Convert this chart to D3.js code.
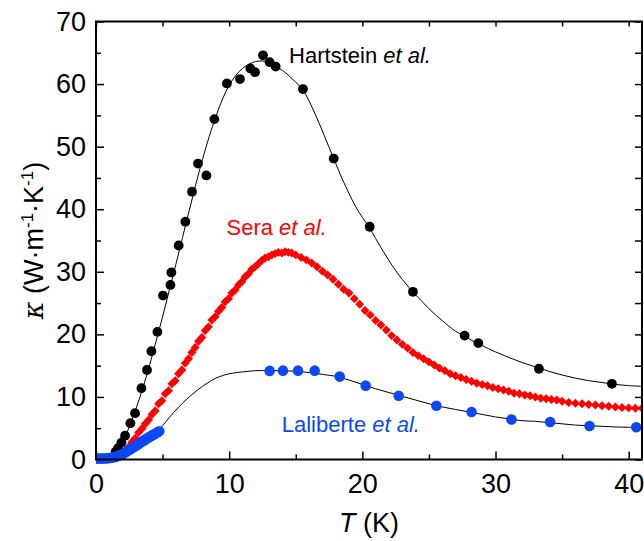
<!DOCTYPE html>
<html><head><meta charset="utf-8">
<script src="https://cdn.jsdelivr.net/npm/d3@7"></script>
<style>
html,body{margin:0;padding:0;background:#fff;}
svg{display:block;font-family:"Liberation Sans",Arial,Helvetica,sans-serif;}
</style></head>
<body>
<svg id="chart" width="644" height="541"></svg>
<script>
// ---------------- data ----------------
const xTicksMajor = [0, 10, 20, 30, 40];
const xTicksMinor = [5, 15, 25, 35];
const yTicksMajor = [0, 10, 20, 30, 40, 50, 60, 70];
const yTicksMinor = [5, 15, 25, 35, 45, 55, 65];

// Hartstein et al. (black circles)
const hartT = [1.48,1.65,1.91,2.18,2.58,2.93,3.41,3.83,4.16,4.61,5.03,5.59,5.66,6.21,6.71,7.21,7.66,8.29,8.89,9.83,10.81,11.59,11.94,12.54,13.04,13.49,15.54,17.85,20.55,23.8,27.68,28.71,33.26,38.74];
const hartK = [1.25,1.8,2.7,3.8,5.8,7.4,11.4,14.3,17.3,20.4,26.2,27.9,29.9,34.2,38.0,42.8,47.3,45.4,54.4,60.1,60.8,62.5,61.9,64.6,63.5,62.8,59.2,48.1,37.2,26.8,19.8,18.6,14.5,12.1];
// fitted curve through Hartstein data
const hartFitT = [0,0.5,1.0,1.5,2.0,2.5,3.0,3.5,4.0,4.5,5.0,5.5,6.0,6.5,7.0,7.5,8.0,8.5,9.0,9.5,10.0,10.5,11.0,11.5,12.0,12.5,13.0,13.5,14.0,14.5,15.0,15.5,16.0,16.5,17.0,17.5,18.0,18.5,19.0,19.5,20.0,20.5,21.0,21.5,22.0,22.5,23.0,23.5,24.0,24.5,25.0,25.5,26.0,26.5,27.0,27.5,28.0,28.5,29.0,30.0,31.0,32.0,33.0,34.0,35.0,36.0,37.0,38.0,39.0,40.0,41.0];
const hartFitK = [0,-0.1,0.1,1.0,2.8,5.2,8.1,11.3,14.9,18.8,22.8,27.0,31.2,35.5,39.8,44.0,48.0,51.6,54.8,57.6,59.8,61.4,62.5,63.2,63.6,63.7,63.5,62.8,62.2,61.3,60.3,59.2,57.3,55.0,52.5,49.9,47.3,44.8,42.5,40.4,38.7,37.2,35.3,33.5,31.8,30.2,28.8,27.5,26.3,25.2,24.1,23.1,22.2,21.3,20.5,19.9,19.3,18.7,18.2,17.2,16.3,15.5,14.8,14.1,13.5,13.0,12.6,12.3,12.0,11.8,11.7];

// Sera et al. (red diamonds)
const seraT = [1.20,1.45,1.70,1.95,2.20,2.45,2.70,2.95,3.20,3.45,3.70,3.95,4.20,4.45,4.70,4.95,5.20,5.45,5.70,5.95,6.20,6.45,6.70,6.95,7.20,7.45,7.70,7.95,8.20,8.45,8.70,8.95,9.20,9.45,9.70,9.95,10.20,10.45,10.70,10.95,11.20,11.45,11.70,11.95,12.20,12.45,12.70,12.95,13.20,13.45,13.70,13.95,14.20,14.45,14.70,
  15.0,15.4,15.8,16.2,16.6,17.0,17.4,17.8,18.2,18.6,19.0,19.4,19.8,20.2,20.6,21.0,21.4,21.8,22.2,22.6,23.0,23.4,23.8,24.2,24.6,25.0,25.4,25.8,26.2,26.6,27.0,27.4,27.8,28.2,28.6,29.0,29.4,29.8,30.2,30.6,31.0,31.4,31.8,32.2,32.6,33.0,33.4,33.8,34.2,34.6,35.0,35.5,36.0,36.5,37.0,37.5,38.0,38.5,39.0,39.5,40.0,40.5,41.0];
const seraK = [0.2,0.4,0.6,0.9,1.4,2.0,2.8,3.4,4.3,4.9,5.7,6.3,7.2,7.8,8.9,9.4,10.5,11.0,12.1,12.6,13.7,14.3,15.4,16.1,17.1,17.9,18.9,19.5,20.6,21.2,22.3,22.8,23.7,24.3,25.2,25.7,26.6,27.1,27.9,28.4,29.2,29.7,30.4,30.8,31.3,31.8,32.2,32.4,32.7,32.9,33.1,33.0,33.2,33.1,33.0,
  32.7,32.3,31.9,31.4,30.8,30.1,29.5,28.8,28.0,27.2,26.6,25.7,24.8,23.8,23.1,22.2,21.5,20.7,19.8,19.1,18.4,17.8,17.1,16.6,16.1,15.6,15.1,14.6,14.2,13.7,13.4,13.1,12.8,12.5,12.2,12.0,11.8,11.5,11.3,11.1,10.9,10.6,10.5,10.3,10.2,10.0,9.8,9.7,9.6,9.5,9.3,9.1,9.0,8.9,8.8,8.7,8.6,8.5,8.4,8.3,8.25,8.2,8.2];

// Laliberte et al. (blue circles)
const laliT = [0.00,0.15,0.30,0.45,0.60,0.75,0.90,1.05,1.20,1.35,1.50,1.65,1.80,1.95,2.10,2.25,2.40,2.55,2.70,2.85,3.00,3.15,3.30,3.45,3.60,3.75,3.90,4.05,4.20,4.35,4.50,4.65,4.75,
  13.04,14.04,15.17,16.42,18.3,20.25,22.73,25.56,28.2,31.2,34.1,37.06,40.57];
const laliK = [0.15,0.15,0.15,0.15,0.15,0.2,0.2,0.25,0.3,0.35,0.45,0.55,0.7,0.85,1.0,1.2,1.4,1.6,1.8,2.0,2.2,2.4,2.65,2.85,3.05,3.25,3.45,3.65,3.85,4.0,4.2,4.4,4.5,
  14.16,14.2,14.2,14.2,13.25,11.8,10.2,8.6,7.6,6.4,6.0,5.36,5.15];
const laliFitT = [0,0.5,1.0,1.5,2.0,2.5,3.0,3.5,4.0,4.5,5.0,5.5,6.0,6.5,7.0,7.5,8.0,8.5,9.0,9.5,10.0,11.0,12.0,13.0,14.0,15.0,16.0,17.0,18.0,19.0,20.0,21.0,22.0,23.0,24.0,25.0,26.0,27.0,28.0,29.0,30.0,31.0,32.0,33.0,34.0,35.0,36.0,37.0,38.0,39.0,40.0,41.0];
const laliFitK = [0,-0.05,0.1,0.4,0.9,1.5,2.2,2.9,3.6,4.3,5.4,6.7,7.9,9.0,10.0,10.9,11.7,12.4,13.0,13.4,13.7,14.0,14.2,14.2,14.2,14.1,13.9,13.6,13.3,12.7,12.0,11.3,10.7,10.1,9.5,8.9,8.4,8.0,7.6,7.2,6.8,6.5,6.2,6.1,5.9,5.7,5.5,5.4,5.3,5.2,5.15,5.1];

const labels = [
  {text: "Hartstein ", it: "et al.", color: "#000000", t: 14.5, k: 63.3},
  {text: "Sera ", it: "et al.", color: "#ff0000", t: 9.8, k: 35.8},
  {text: "Laliberte ", it: "et al.", color: "#0a48f5", t: 13.95, k: 4.4}
];

// ---------------- chart ----------------
const svg = d3.select("#chart");
const L = 96, R = 642, T = 21.5, B = 459.5;
const x = d3.scaleLinear().domain([0, 41]).range([L, R]);
const y = d3.scaleLinear().domain([0, 70]).range([B, T]);
const blue = "#0a48f5", red = "#ff0000";

function styleAxis(g, fs) {
  g.select(".domain").remove();
  g.selectAll(".tick line").attr("stroke", "#000").attr("stroke-width", 1.5);
  g.selectAll(".tick text").attr("fill", "#000").style("font-size", fs + "px")
    .style("font-family", '"Liberation Sans",Arial,sans-serif');
}

// bottom axis
svg.append("g").attr("transform", `translate(0,${B})`)
  .call(d3.axisBottom(x).tickValues(xTicksMajor).tickSizeInner(-8).tickSizeOuter(0).tickPadding(14))
  .call(g => styleAxis(g, 27));
svg.append("g").attr("transform", `translate(0,${B})`)
  .call(d3.axisBottom(x).tickValues(xTicksMinor).tickSizeInner(-5).tickSizeOuter(0).tickFormat(""))
  .call(g => styleAxis(g, 27));
// top axis
svg.append("g").attr("transform", `translate(0,${T})`)
  .call(d3.axisTop(x).tickValues(xTicksMajor.concat(xTicksMinor)).tickSizeInner(-5).tickSizeOuter(0).tickFormat(""))
  .call(g => styleAxis(g, 27));
// left axis
svg.append("g").attr("transform", `translate(${L},0)`)
  .call(d3.axisLeft(y).tickValues(yTicksMajor).tickSizeInner(-8).tickSizeOuter(0).tickPadding(10))
  .call(g => styleAxis(g, 27));
svg.append("g").attr("transform", `translate(${L},0)`)
  .call(d3.axisLeft(y).tickValues(yTicksMinor).tickSizeInner(-5).tickSizeOuter(0).tickFormat(""))
  .call(g => styleAxis(g, 27));
// right axis
svg.append("g").attr("transform", `translate(${R},0)`)
  .call(d3.axisRight(y).tickValues(yTicksMajor.concat(yTicksMinor)).tickSizeInner(-7).tickSizeOuter(0).tickFormat(""))
  .call(g => styleAxis(g, 27));

// clip
svg.append("clipPath").attr("id", "clip").append("rect")
  .attr("x", L).attr("y", T).attr("width", R - L).attr("height", B - T + 6);
const plot = svg.append("g").attr("clip-path", "url(#clip)");

plot.append("path").datum(hartFitT.map((t, i) => [t, hartFitK[i]]))
  .attr("d", d3.line().x(d => x(d[0])).y(d => y(d[1])).curve(d3.curveCatmullRom))
  .attr("fill", "none").attr("stroke", "#000").attr("stroke-width", 1);
plot.append("path").datum(laliFitT.map((t, i) => [t, laliFitK[i]]))
  .attr("d", d3.line().x(d => x(d[0])).y(d => y(d[1])).curve(d3.curveCatmullRom))
  .attr("fill", "none").attr("stroke", "#000").attr("stroke-width", 1);

// red diamonds
const diamond = d3.symbol().type(d3.symbolSquare).size(40)();
plot.append("g").selectAll("path").data(seraT.map((t, i) => [t, seraK[i]])).join("path")
  .attr("d", diamond)
  .attr("transform", d => `translate(${x(d[0])},${y(d[1])}) rotate(45)`)
  .attr("fill", red);

// black circles
plot.append("g").selectAll("circle").data(hartT.map((t, i) => [t, hartK[i]])).join("circle")
  .attr("cx", d => x(d[0])).attr("cy", d => y(d[1])).attr("r", 4.9).attr("fill", "#000");

// blue circles
plot.append("g").selectAll("circle").data(laliT.map((t, i) => [t, laliK[i]])).join("circle")
  .attr("cx", d => x(d[0])).attr("cy", d => y(d[1])).attr("r", 5.3).attr("fill", blue);

// frame
svg.append("rect").attr("x", L).attr("y", T).attr("width", R - L).attr("height", B - T)
  .attr("fill", "none").attr("stroke", "#000").attr("stroke-width", 2);

// annotations
labels.forEach(l => {
  const t = svg.append("text").attr("x", x(l.t)).attr("y", y(l.k))
    .attr("fill", l.color).style("font-size", "22px");
  t.append("tspan").text(l.text);
  t.append("tspan").style("font-style", "italic").text(l.it);
});

// axis titles
const xt = svg.append("text").attr("x", (L + R) / 2).attr("y", 532)
  .attr("text-anchor", "middle").style("font-size", "27px").attr("fill", "#000");
xt.append("tspan").style("font-style", "italic").text("T");
xt.append("tspan").text(" (K)");

const yt = svg.append("text").attr("transform", `translate(43,${(T + B) / 2}) rotate(-90)`)
  .attr("text-anchor", "middle").style("font-size", "27px").attr("fill", "#000");
yt.append("tspan").style("font-style", "italic").style("font-family", '"DejaVu Serif","Liberation Serif",serif').text("κ");
yt.append("tspan").text(" (W·m");
yt.append("tspan").attr("dy", -10).style("font-size", "17px").text("-1");
yt.append("tspan").attr("dy", 10).text("·K");
yt.append("tspan").attr("dy", -10).style("font-size", "17px").text("-1");
yt.append("tspan").attr("dy", 10).text(")");
</script>
</body></html>
